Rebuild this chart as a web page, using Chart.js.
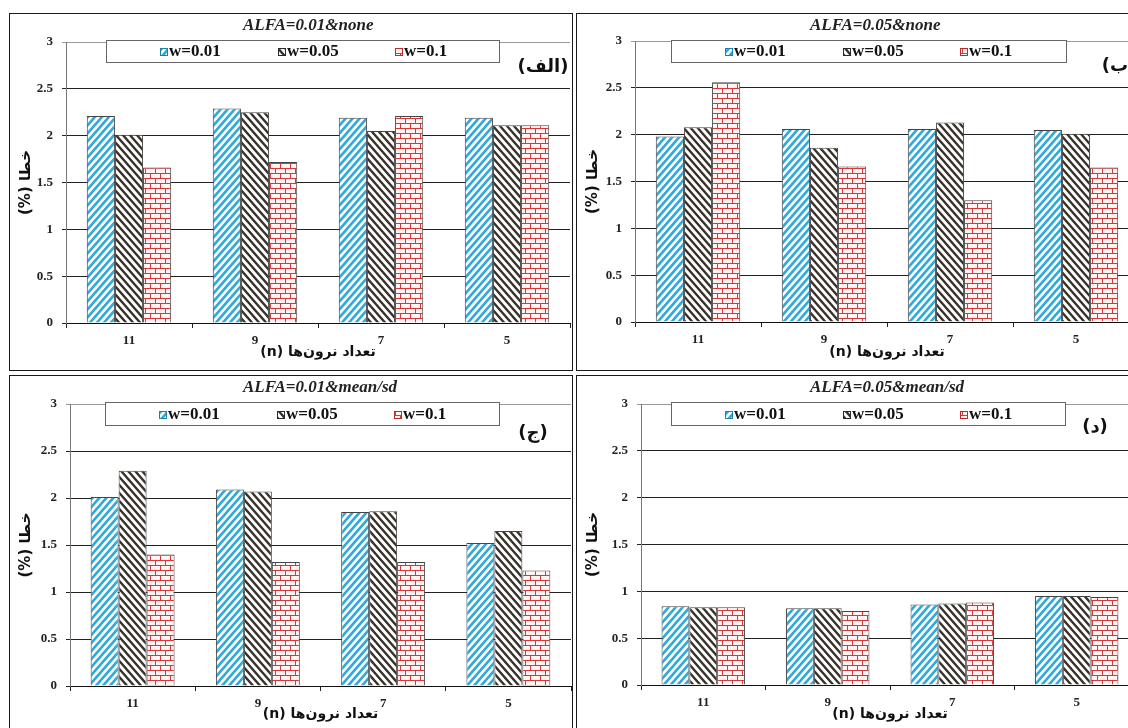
<!DOCTYPE html>
<html>
<head>
<meta charset="utf-8">
<script src="https://cdn.jsdelivr.net/npm/chart.js@4.4.0/dist/chart.umd.min.js"></script>
<style>
  html, body { margin: 0; padding: 0; background: #fff; }
  body { width: 1128px; height: 728px; overflow: hidden; position: relative; }
  .panel { position: absolute; border: 1px solid #1a1a1a; background: #fff; }
  .panel canvas { display: block; }
</style>
</head>
<body>
<div class="panel" style="left:9px;top:13px;width:562px;height:356px;"><canvas id="cA" width="562" height="356"></canvas></div>
<div class="panel" style="left:576px;top:13px;width:566px;height:356px;"><canvas id="cB" width="566" height="356"></canvas></div>
<div class="panel" style="left:9px;top:375px;width:562px;height:356px;"><canvas id="cC" width="562" height="356"></canvas></div>
<div class="panel" style="left:576px;top:375px;width:566px;height:356px;"><canvas id="cD" width="566" height="356"></canvas></div>
<script>
// number of neurons (n), read right to left as in the original
const categories = ['11', '9', '7', '5'];
const seriesLabels = ['w=0.01', 'w=0.05', 'w=0.1'];
const yMin = 0, yMax = 3, yStep = 0.5;

// (الف) ALFA=0.01&none
const a01None_w001 = [2.21, 2.29, 2.19, 2.19];
const a01None_w005 = [2.01, 2.25, 2.05, 2.11];
const a01None_w01  = [1.66, 1.72, 2.21, 2.11];
// (ب) ALFA=0.05&none
const a05None_w001 = [1.98, 2.06, 2.06, 2.05];
const a05None_w005 = [2.08, 1.86, 2.13, 2.01];
const a05None_w01  = [2.56, 1.66, 1.30, 1.65];
// (ج) ALFA=0.01&mean/sd
const a01Mean_w001 = [2.01, 2.09, 1.85, 1.52];
const a01Mean_w005 = [2.29, 2.07, 1.86, 1.65];
const a01Mean_w01  = [1.40, 1.32, 1.32, 1.23];
// (د) ALFA=0.05&mean/sd
const a05Mean_w001 = [0.84, 0.82, 0.86, 0.95];
const a05Mean_w005 = [0.83, 0.82, 0.87, 0.95];
const a05Mean_w01  = [0.83, 0.79, 0.88, 0.94];

const xTitle = '\u202Bتعداد نرون\u200Cها (n)\u202C';
const yTitle = '\u202Bخطا (%)\u202C';

Chart.defaults.font.family = '"Liberation Serif", "Times New Roman", serif';
Chart.defaults.color = '#222';

function makeStripes(color, w, h, lw, flip) {
  const c = document.createElement('canvas');
  c.width = w; c.height = h;
  const g = c.getContext('2d');
  g.fillStyle = '#fff';
  g.fillRect(0, 0, w, h);
  g.strokeStyle = color;
  g.lineWidth = lw;
  g.beginPath();
  for (let k = -1; k <= 1; k++) {
    if (flip) { g.moveTo(k * w - w, -h); g.lineTo(k * w + 2 * w, 2 * h); }
    else { g.moveTo(k * w - w, 2 * h); g.lineTo(k * w + 2 * w, -h); }
  }
  g.stroke();
  return g.createPattern(c, 'repeat');
}

function makeBrick() {
  const c = document.createElement('canvas');
  c.width = 10; c.height = 10;
  const g = c.getContext('2d');
  g.fillStyle = '#fff3f3';
  g.fillRect(0, 0, 10, 10);
  g.fillStyle = '#d23a3a';
  g.fillRect(0, 4, 10, 1);
  g.fillRect(0, 9, 10, 1);
  g.fillRect(0, 0, 1, 4);
  g.fillRect(5, 5, 1, 4);
  return g.createPattern(c, 'repeat');
}

const fills = [
  makeStripes('#2fa8da', 7, 8, 2.6, false),
  makeStripes('#38322a', 7, 8, 2.4, true),
  makeBrick()
];
const swatchEdge = ['#1f7fae', '#2a2a2a', '#c22a2a'];

// title, legend box and panel letter
const panelDecor = {
  id: 'panelDecor',
  afterDatasetsDraw(chart, args, opts) {
    const ctx = chart.ctx;
    ctx.save();
    ctx.fillStyle = '#222';
    ctx.textBaseline = 'middle';
    ctx.textAlign = 'left';
    ctx.font = 'italic bold 17px "Liberation Serif"';
    ctx.fillText(opts.title, 233, 12);

    const b = opts.box;
    ctx.fillStyle = '#fff';
    ctx.fillRect(b.x, b.y, b.w, b.h);
    ctx.strokeStyle = '#666';
    ctx.lineWidth = 1;
    ctx.strokeRect(b.x + 0.5, b.y + 0.5, b.w, b.h);
    const itemX = [54, 172, 289];
    chart.data.datasets.forEach((ds, i) => {
      const sx = b.x + itemX[i];
      const sy = Math.round(b.y + b.h / 2 - 3);
      ctx.fillStyle = ds.backgroundColor;
      ctx.fillRect(sx, sy, 8, 8);
      ctx.strokeStyle = swatchEdge[i];
      ctx.strokeRect(sx + 0.5, sy + 0.5, 7, 7);
      ctx.fillStyle = '#111';
      ctx.font = 'bold 17px "Liberation Serif"';
      ctx.fillText(ds.label, sx + 9, b.y + b.h / 2 + 1);
    });

    ctx.fillStyle = '#111';
    ctx.textAlign = 'center';
    ctx.font = 'bold 18px "DejaVu Sans"';
    ctx.fillText(opts.letter, opts.letterX, opts.letterY);
    ctx.restore();
  }
};

const panels = [
  { id: 'cA', title: 'ALFA=0.01&none', letter: '(الف)', series: [a01None_w001, a01None_w005, a01None_w01],
    area: { left: 56, right: 560, top: 28, bottom: 309 }, box: { x: 96, y: 26, w: 393, h: 22 }, letterX: 533, letterY: 53 },
  { id: 'cB', title: 'ALFA=0.05&none', letter: '(ب)', series: [a05None_w001, a05None_w005, a05None_w01],
    area: { left: 58, right: 562, top: 27, bottom: 308 }, box: { x: 94, y: 26, w: 395, h: 22 }, letterX: 542, letterY: 52 },
  { id: 'cC', title: 'ALFA=0.01&mean/sd', letter: '(ج)', series: [a01Mean_w001, a01Mean_w005, a01Mean_w01],
    area: { left: 60, right: 561, top: 28, bottom: 310 }, box: { x: 95, y: 26, w: 394, h: 23 }, letterX: 523, letterY: 57 },
  { id: 'cD', title: 'ALFA=0.05&mean/sd', letter: '(د)', series: [a05Mean_w001, a05Mean_w005, a05Mean_w01],
    area: { left: 64, right: 562, top: 28, bottom: 309 }, box: { x: 94, y: 26, w: 394, h: 23 }, letterX: 518, letterY: 51 }
];

panels.forEach(p => {
  const canvas = document.getElementById(p.id);
  new Chart(canvas, {
    type: 'bar',
    data: {
      labels: categories,
      datasets: p.series.map((vals, i) => ({
        label: seriesLabels[i],
        data: vals,
        backgroundColor: fills[i],
        borderColor: '#444',
        borderWidth: 1,
        categoryPercentage: 0.67,
        barPercentage: 1.0
      }))
    },
    options: {
      responsive: false,
      animation: false,
      events: [],
      layout: {
        padding: { left: 0, top: p.area.top, right: canvas.width - p.area.right, bottom: 0 }
      },
      plugins: {
        legend: { display: false },
        tooltip: { enabled: false },
        panelDecor: { title: p.title, letter: p.letter, box: p.box, letterX: p.letterX, letterY: p.letterY }
      },
      scales: {
        x: {
          afterFit: s => { s.height = canvas.height - p.area.bottom; },
          grid: { offset: true, drawOnChartArea: false, drawTicks: true, tickLength: 5, color: '#222' },
          border: { color: '#111' },
          ticks: { padding: 5, font: { size: 13, weight: 'bold' }, color: '#222' },
          title: {
            display: true,
            text: xTitle,
            font: { family: '"DejaVu Sans"', size: 14, weight: 'bold' },
            color: '#111',
            padding: { top: 0, bottom: 9 }
          }
        },
        y: {
          min: yMin,
          max: yMax,
          afterFit: s => { s.width = p.area.left; },
          grid: {
            color: c => (c.tick && c.tick.value === yMax ? '#999' : '#222'),
            drawTicks: true,
            tickLength: 4
          },
          border: { color: '#777' },
          ticks: {
            stepSize: yStep,
            padding: 9,
            font: { size: 13, weight: 'bold' },
            color: '#222',
            callback: v => String(v)
          },
          title: {
            display: true,
            text: yTitle,
            font: { family: '"DejaVu Sans"', size: 15, weight: 'bold' },
            color: '#111',
            padding: { top: 7, bottom: 0 }
          }
        }
      }
    },
    plugins: [panelDecor]
  });
});
</script>
</body>
</html>
